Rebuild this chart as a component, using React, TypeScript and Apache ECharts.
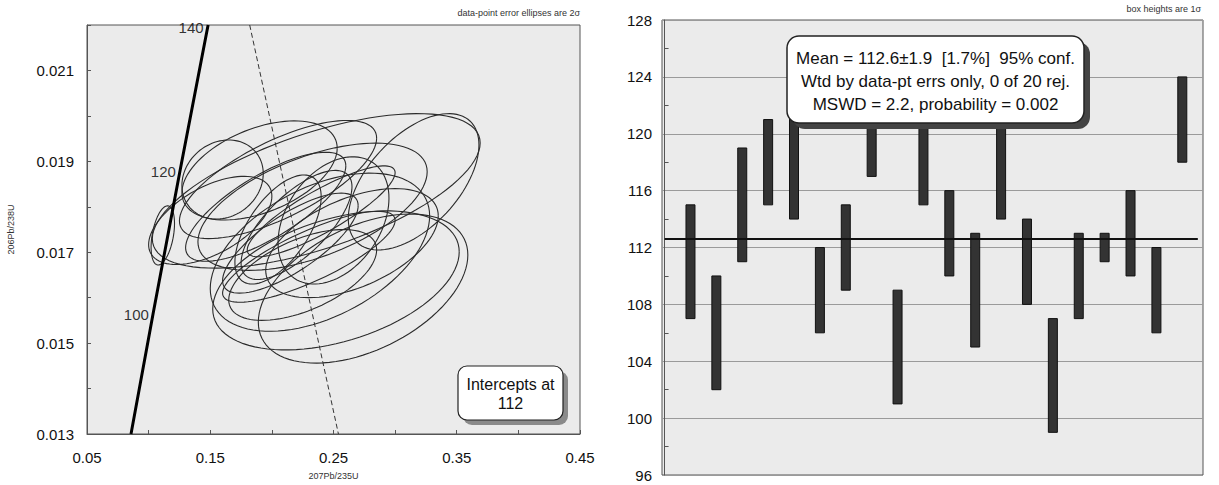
import React, { useEffect, useRef } from "react";
import * as echarts from "echarts";

// ---------- Left panel: concordia (207Pb/235U vs 206Pb/238U) ----------
// error ellipses (2 sigma): centre x, centre y, half-width x, half-height y, error correlation
const ellipseX = [0.236, 0.315, 0.274, 0.252, 0.239, 0.233, 0.1115, 0.150, 0.190, 0.160, 0.205, 0.215, 0.220, 0.250, 0.230, 0.205, 0.265, 0.240, 0.195, 0.225];
const ellipseY = [0.01835, 0.01855, 0.01620, 0.01638, 0.01700, 0.01800, 0.01737, 0.01770, 0.01880, 0.01860, 0.01860, 0.01720, 0.01760, 0.01770, 0.01690, 0.01750, 0.01720, 0.01790, 0.01800, 0.01650];
const ellipseSX = [0.133, 0.053, 0.085, 0.100, 0.089, 0.093, 0.0095, 0.050, 0.063, 0.033, 0.080, 0.055, 0.045, 0.045, 0.070, 0.035, 0.070, 0.060, 0.065, 0.060];
const ellipseSY = [0.00170, 0.00150, 0.00164, 0.00153, 0.00174, 0.00140, 0.00065, 0.00097, 0.00109, 0.00087, 0.00130, 0.00110, 0.00120, 0.00140, 0.00100, 0.00120, 0.00120, 0.00100, 0.00120, 0.00100];
const ellipseRho = [0.62, 0.54, 0.45, 0.41, 0.46, 0.55, 0.4, 0.55, 0.45, 0.15, 0.70, 0.75, 0.70, 0.35, 0.80, 0.60, 0.50, 0.85, 0.75, 0.55];

// concordia curve points and age labels (Ma)
const concordiaX = [0.0857, 0.1035, 0.1254, 0.1479, 0.1483];
const concordiaY = [0.0130, 0.01563, 0.01878, 0.02195, 0.0220];
const concordiaAges = ["", "100", "120", "140", ""];

// discordia (dashed) line
const discordiaX = [0.182, 0.254];
const discordiaY = [0.022, 0.013];

// ---------- Right panel: weighted mean ages ----------
const spotIndex = [1, 2, 3, 4, 5, 6, 7, 8, 9, 10, 11, 12, 13, 14, 15, 16, 17, 18, 19, 20];
const ageLow = [107, 102, 111, 115, 114, 106, 109, 117, 101, 115, 110, 105, 114, 108, 99, 107, 111, 110, 106, 118];
const ageHigh = [115, 110, 119, 121, 122, 112, 115, 123, 109, 123, 116, 113, 122, 114, 107, 113, 113, 116, 112, 124];
const meanAge = 112.6;

const meanText = [
  "Mean = 112.6±1.9  [1.7%]  95% conf.",
  "Wtd by data-pt errs only, 0 of 20 rej.",
  "MSWD = 2.2, probability = 0.002",
];
const interceptText = ["Intercepts at", "112"];

const FONT = "'Liberation Sans', Arial, sans-serif";

export default function App() {
  const ref = useRef<HTMLDivElement>(null);

  useEffect(() => {
    if (!ref.current) return;
    const chart = echarts.init(ref.current, null, { renderer: "svg" });

    const ellipseData = ellipseX.map((x, i) => [x, ellipseY[i], ellipseSX[i], ellipseSY[i], ellipseRho[i]]);
    const barData = spotIndex.map((s, i) => [s, ageLow[i], ageHigh[i]]);
    const concordiaData = concordiaX.map((x, i) => [x, concordiaY[i]]);
    const ageLabelData = concordiaX
      .map((x, i) => ({ value: [x, concordiaY[i]], name: concordiaAges[i] }))
      .filter((d) => d.name !== "");

    const option: any = {
      animation: false,
      backgroundColor: "#ffffff",
      textStyle: { fontFamily: FONT },
      grid: [
        { left: 87, top: 25, width: 493, height: 413, show: true, backgroundColor: "#ebebeb", borderColor: "#555", borderWidth: 1 },
        { left: 662, top: 20, width: 541, height: 455, show: true, backgroundColor: "#ebebeb", borderColor: "#555", borderWidth: 1 },
      ],
      xAxis: [
        {
          type: "value", gridIndex: 0, min: 0.05, max: 0.45, interval: 0.05,
          axisLine: { show: true, lineStyle: { color: "#555" } },
          axisTick: { show: true, inside: true, length: 4, lineStyle: { color: "#555" } },
          splitLine: { show: false },
          axisLabel: {
            fontSize: 15, color: "#111", margin: 16, fontFamily: FONT,
            showMinLabel: true, showMaxLabel: true,
            formatter: (v: number) => (Math.round(v * 100) % 10 === 5 ? v.toFixed(2) : ""),
          },
          name: "207Pb/235U", nameLocation: "middle", nameGap: 37,
          nameTextStyle: { fontSize: 9, color: "#333", fontFamily: FONT },
        },
        { type: "value", gridIndex: 1, min: -0.1, max: 20.8, show: false },
      ],
      yAxis: [
        {
          type: "value", gridIndex: 0, min: 0.013, max: 0.022, interval: 0.001,
          axisLine: { show: true, lineStyle: { color: "#555" } },
          axisTick: { show: true, inside: true, length: 4, lineStyle: { color: "#555" } },
          splitLine: { show: false },
          axisLabel: {
            fontSize: 15, color: "#111", margin: 13, fontFamily: FONT,
            formatter: (v: number) => (Math.round(v * 1000) % 2 === 1 ? v.toFixed(3) : ""),
          },
          name: "206Pb/238U", nameLocation: "middle", nameGap: 72, nameRotate: 90,
          nameTextStyle: { fontSize: 9, color: "#333", fontFamily: FONT },
        },
        {
          type: "value", gridIndex: 1, min: 96, max: 128, interval: 4,
          axisLine: { show: true, lineStyle: { color: "#555" } },
          axisTick: { show: false, inside: true, length: 4 },
          minorTick: { show: true, splitNumber: 2, length: 4, lineStyle: { color: "#555" } },
          splitLine: { show: true, lineStyle: { color: "#9a9a9a", width: 1 } },
          axisLabel: { fontSize: 15, color: "#111", margin: 10, fontFamily: FONT },
        },
      ],
      series: [
        {
          type: "custom", xAxisIndex: 0, yAxisIndex: 0, data: ellipseData, clip: true,
          encode: { x: 0, y: 1 },
          renderItem: (params: any, api: any) => {
            const cx = api.value(0), cy = api.value(1), sx = api.value(2), sy = api.value(3), rho = api.value(4);
            const pts: number[][] = [];
            const n = 96;
            const q = Math.sqrt(1 - rho * rho);
            for (let k = 0; k <= n; k++) {
              const t = (k / n) * Math.PI * 2;
              const x = cx + sx * Math.cos(t);
              const y = cy + sy * (rho * Math.cos(t) + q * Math.sin(t));
              pts.push(api.coord([x, y]));
            }
            return { type: "polyline", shape: { points: pts }, style: { stroke: "#2b2b2b", lineWidth: 1.1, fill: null } };
          },
          z: 2,
        },
        {
          type: "line", xAxisIndex: 0, yAxisIndex: 0, data: concordiaData, symbol: "none",
          lineStyle: { color: "#000", width: 3 }, z: 4, clip: true,
        },
        {
          type: "scatter", xAxisIndex: 0, yAxisIndex: 0, data: ageLabelData, symbolSize: 0.1,
          label: { show: true, position: "left", distance: 4, formatter: "{b}", fontSize: 15, color: "#000", fontFamily: FONT },
          itemStyle: { color: "transparent" }, z: 5, clip: false,
        },
        {
          type: "line", xAxisIndex: 0, yAxisIndex: 0,
          data: discordiaX.map((x, i) => [x, discordiaY[i]]), symbol: "none",
          lineStyle: { color: "#333", width: 1, type: [5, 3] }, z: 3,
        },
        {
          type: "custom", xAxisIndex: 1, yAxisIndex: 1, data: barData,
          encode: { x: 0, y: [1, 2] },
          renderItem: (params: any, api: any) => {
            const i = api.value(0);
            const top = api.coord([i, api.value(2)]);
            const bot = api.coord([i, api.value(1)]);
            return {
              type: "rect",
              shape: { x: top[0] - 4.5, y: top[1], width: 9, height: bot[1] - top[1] },
              style: { fill: "#333", stroke: "#111", lineWidth: 1 },
            };
          },
          z: 3,
        },
        {
          type: "line", xAxisIndex: 1, yAxisIndex: 1,
          data: [[0, meanAge], [20.6, meanAge]], symbol: "none",
          lineStyle: { color: "#111", width: 2 }, z: 4,
        },
      ],
      graphic: [
        { type: "text", z: 100, style: { x: 580, y: 13, text: "data-point error ellipses are 2σ", textAlign: "right", textVerticalAlign: "middle", fontSize: 9, fill: "#333", fontFamily: FONT } },
        { type: "text", z: 100, style: { x: 1201, y: 9, text: "box heights are 1σ", textAlign: "right", textVerticalAlign: "middle", fontSize: 9, fill: "#333", fontFamily: FONT } },
        // right mean box
        { type: "rect", z: 100, shape: { x: 793, y: 42, width: 297, height: 87, r: 12 }, style: { fill: "#444" } },
        { type: "rect", z: 101, shape: { x: 787, y: 36, width: 297, height: 87, r: 12 }, style: { fill: "#fff", stroke: "#222", lineWidth: 1.5 } },
        ...meanText.map((t, i) => ({
          type: "text", z: 102,
          style: { x: 935.5, y: 58 + i * 23, text: t, textAlign: "center", textVerticalAlign: "middle", fontSize: 17, fill: "#111", fontFamily: FONT },
        })),
        // left intercept box
        { type: "rect", z: 100, shape: { x: 463, y: 371, width: 105, height: 54, r: 9 }, style: { fill: "#8a8a8a" } },
        { type: "rect", z: 101, shape: { x: 458, y: 366, width: 105, height: 54, r: 9 }, style: { fill: "#fff", stroke: "#222", lineWidth: 1.2 } },
        ...interceptText.map((t, i) => ({
          type: "text", z: 102,
          style: { x: 510.5, y: 384 + i * 19, text: t, textAlign: "center", textVerticalAlign: "middle", fontSize: 16, fill: "#111", fontFamily: FONT },
        })),
      ],
    };

    chart.setOption(option);
    return () => chart.dispose();
  }, []);

  return (
    <div
      ref={ref}
      style={{ position: "fixed", left: 0, top: 0, width: 1219, height: 485, background: "#fff" }}
    />
  );
}
